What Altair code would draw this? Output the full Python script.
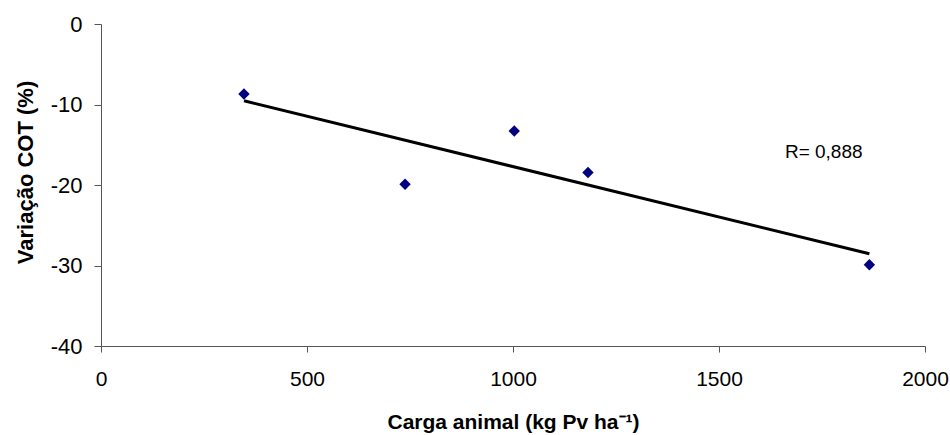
import altair as alt
import pandas as pd

carga = [347, 738, 1003, 1182, 1865]
variacao = [-8.7, -19.9, -13.3, -18.45, -29.9]
x_ticks = [0, 500, 1000, 1500, 2000]
y_ticks = [-40, -30, -20, -10, 0]
r_label = ["R= 0,888"]
r_x = [1660]
r_y = [-15.9]

df = pd.DataFrame({"x": carga, "y": variacao})
df_r = pd.DataFrame({"x": r_x, "y": r_y, "t": r_label})

FONT = "Liberation Sans"
AX = "#555555"

xs = alt.Scale(domain=[0, 2000], nice=False, zero=False)
ys = alt.Scale(domain=[-40, 0], nice=False, zero=False)

xaxis = alt.Axis(values=x_ticks, title="Carga animal (kg Pv ha⁻¹)", grid=False,
                 format="d",
                 domainColor=AX, tickColor=AX, tickSize=6, labelFontSize=21,
                 labelFont=FONT, labelColor="black", labelPadding=16,
                 titleFont=FONT, titleFontSize=21, titleFontWeight="bold",
                 titleColor="black", titleBaseline="middle", titleY=76,
                 labelFlush=False)
yaxis = alt.Axis(values=y_ticks, title="Variação COT (%)", grid=False,
                 domainColor=AX, tickColor=AX, tickSize=7, labelFontSize=22,
                 labelFont=FONT, labelColor="black", labelPadding=12,
                 labelExpr="datum.value + ''",
                 titleFont=FONT, titleFontSize=22, titleFontWeight="bold",
                 titleColor="black", titleBaseline="middle", titleX=-76,
                 titleY=148, labelFlush=False)

points = alt.Chart(df).mark_point(shape="diamond", filled=True, color="#000080",
                                  size=130, opacity=1).encode(
    x=alt.X("x:Q", scale=xs, axis=xaxis),
    y=alt.Y("y:Q", scale=ys, axis=yaxis),
)

trend = alt.Chart(df).transform_regression("x", "y").mark_line(
    color="black", strokeWidth=3).encode(
    x=alt.X("x:Q", scale=xs),
    y=alt.Y("y:Q", scale=ys),
)

rtext = alt.Chart(df_r).mark_text(align="left", baseline="middle", font=FONT,
                                  fontSize=19, color="black").encode(
    x=alt.X("x:Q", scale=xs),
    y=alt.Y("y:Q", scale=ys),
    text="t:N",
)

chart = alt.layer(trend, points, rtext).properties(
    width=824, height=322,
    autosize=alt.AutoSizeParams(type="none"),
    padding={"left": 101, "top": 24, "right": 25, "bottom": 89},
    background="white",
).configure_view(stroke=None)

chart.save("out.html", embed_options={"renderer": "svg", "actions": False})
